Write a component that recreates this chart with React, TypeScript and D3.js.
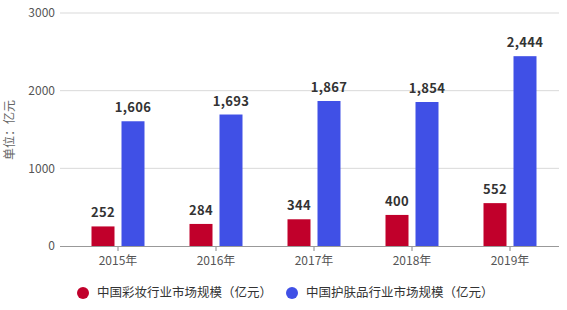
import React from "react";
import * as d3 from "d3";

const categories = ["2015年", "2016年", "2017年", "2018年", "2019年"];
const makeupValues = [252, 284, 344, 400, 552];
const skincareValues = [1606, 1693, 1867, 1854, 2444];
const seriesNames = ["中国彩妆行业市场规模（亿元）", "中国护肤品行业市场规模（亿元）"];
const yTicks = [0, 1000, 2000, 3000];
const colors = ["#c1002b", "#4050e6"];

const W = 567, H = 310;
const plotLeft = 60, plotRight = 559, bandLeft = 69;
const yTop = 13, yBottom = 246;

export default function App() {
  const x = d3.scaleBand<string>().domain(categories).range([bandLeft, plotRight]).paddingInner(0).paddingOuter(0);
  const y = d3.scaleLinear().domain([0, 3000]).range([yBottom, yTop]);
  const barW = 23, gap = 7;
  const font = "'Microsoft YaHei', 'Noto Sans CJK SC', sans-serif";
  return (
    <svg width={W} height={H} style={{ position: "absolute", left: 0, top: 0, fontFamily: font }}>
      <rect width={W} height={H} fill="#fff" />
      {yTicks.map(t => (
        <g key={t}>
          {t > 0 && <line x1={plotLeft} x2={plotRight} y1={y(t)} y2={y(t)} stroke="#d9d9d9" strokeWidth={1} />}
          <text x={55} y={y(t)} dy="0.35em" textAnchor="end" fontSize={12} fill="#555">{t}</text>
        </g>
      ))}
      <text transform={`translate(14,130) rotate(-90)`} textAnchor="middle" fontSize={12} fill="#666">单位：亿元</text>
      {categories.map((c, i) => {
        const cx = (x(c) as number) + x.bandwidth() / 2;
        const vals = [makeupValues[i], skincareValues[i]];
        return (
          <g key={c}>
            {vals.map((v, j) => {
              const bx = j === 0 ? cx - gap / 2 - barW : cx + gap / 2;
              return (
                <g key={j}>
                  <rect x={bx} y={y(v)} width={barW} height={y(0) - y(v)} fill={colors[j]} />
                  <text x={bx + barW / 2} y={y(v) - 9} textAnchor="middle" fontSize={13} fontWeight="bold" fill="#333" letterSpacing={0.3}>{d3.format(",")(v)}</text>
                </g>
              );
            })}
            <line x1={cx} x2={cx} y1={yBottom} y2={yBottom + 5} stroke="#888" />
            <text x={cx} y={yBottom + 19} textAnchor="middle" fontSize={12} fill="#555">{c}</text>
          </g>
        );
      })}
      <line x1={plotLeft} x2={plotRight} y1={yBottom + 0.5} y2={yBottom + 0.5} stroke="#999" />
      {seriesNames.map((s, j) => {
        const lx = j === 0 ? 83 : 292;
        return (
          <g key={s}>
            <circle cx={lx} cy={293} r={6} fill={colors[j]} />
            <text x={lx + 14} y={293} dy="0.35em" fontSize={12.5} fill="#333">{s}</text>
          </g>
        );
      })}
    </svg>
  );
}
